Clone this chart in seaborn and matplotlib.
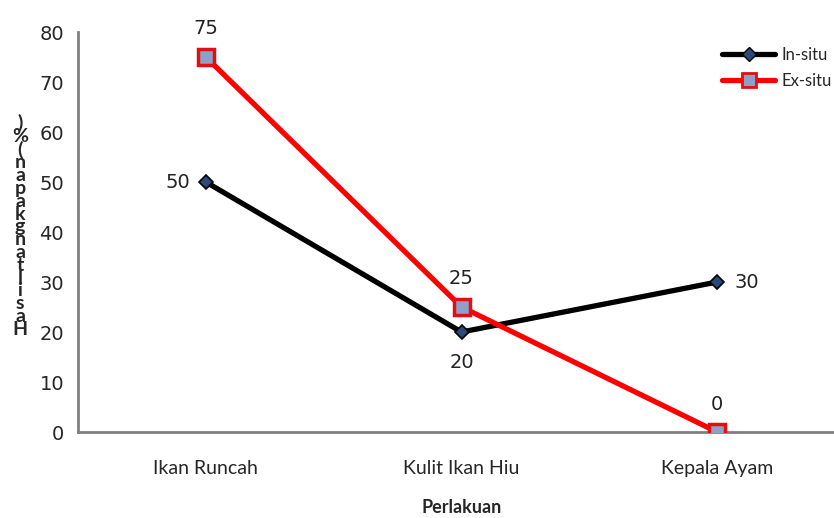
import pandas as pd
import seaborn as sns
import matplotlib.pyplot as plt
from matplotlib.lines import Line2D

# ===============================
# DATA
# ===============================
perlakuan = ["Ikan Runcah", "Kulit Ikan Hiu", "Kepala Ayam"]
in_situ = [50, 20, 30]
ex_situ = [75, 25, 0]
series_names = ["In-situ", "Ex-situ"]

df = pd.DataFrame({
    "pos": list(range(len(perlakuan))) * 2,
    "Perlakuan": perlakuan * 2,
    "nilai": in_situ + ex_situ,
    "seri": [series_names[0]] * 3 + [series_names[1]] * 3,
})

# ===============================
# PLOT
# ===============================
sns.set_style("white")
plt.rcParams["font.family"] = ["Lato", "DejaVu Sans"]

fig = plt.figure(figsize=(8.34, 5.18), dpi=100)
ax = fig.add_axes([78 / 834, 86 / 518, 767 / 834, 400 / 518])

palette = {"In-situ": "black", "Ex-situ": "#ff0000"}
sns.lineplot(data=df, x="pos", y="nilai", hue="seri", palette=palette,
             linewidth=3.8, legend=False, ax=ax)

# markers
sub = df[df["seri"] == "In-situ"]
ax.plot(sub["pos"], sub["nilai"], linestyle="none", marker="D", markersize=7,
        markerfacecolor="#2a4a7a", markeredgecolor="black", markeredgewidth=1.2, zorder=5)
sub = df[df["seri"] == "Ex-situ"]
ax.plot(sub["pos"], sub["nilai"], linestyle="none", marker="s", markersize=12,
        markerfacecolor="#8fa0c8", markeredgecolor="#e01010", markeredgewidth=2.5, zorder=5)

# data labels
offsets_in = [(-28, 0), (0, -30), (30, 0)]
offsets_ex = [(0, 28), (0, 28), (0, 28)]
for i, v in enumerate(in_situ):
    ax.annotate(str(v), (i, v), xytext=offsets_in[i], textcoords="offset pixels",
                ha="center", va="center", fontsize=14, color="#222222",
                family=["DejaVu Sans"])
for i, v in enumerate(ex_situ):
    ax.annotate(str(v), (i, v), xytext=offsets_ex[i], textcoords="offset pixels",
                ha="center", va="center", fontsize=14, color="#222222",
                family=["DejaVu Sans"])

# legend
handles = [
    Line2D([], [], color="black", linewidth=3.8, marker="D", markersize=7,
           markerfacecolor="#2a4a7a", markeredgecolor="black"),
    Line2D([], [], color="#ff0000", linewidth=3.8, marker="s", markersize=10,
           markerfacecolor="#8fa0c8", markeredgecolor="#e01010", markeredgewidth=2),
]
ax.legend(handles, series_names, loc="upper left", bbox_to_anchor=(0.82, 1.0),
          frameon=False, fontsize=12, handlelength=3.2, handletextpad=0.4,
          labelspacing=0.6)

# axes
ax.set_xlim(-0.5, 2.5)
ax.set_ylim(0, 80)
ax.set_xticks([-0.5, 0.5, 1.5, 2.5])
ax.set_xticklabels([])
ax.set_xticks(range(len(perlakuan)), minor=True)
ax.set_xticklabels(perlakuan, minor=True, fontsize=14)
ax.tick_params(axis="x", which="minor", length=0, pad=20)
ax.tick_params(axis="x", which="major", length=7, width=2, color="#808080", direction="out")
ax.set_yticks(range(0, 81, 10))
ax.set_yticklabels([str(t) for t in range(0, 81, 10)], family=["DejaVu Sans"])
ax.tick_params(axis="y", labelsize=14, length=7, width=2, color="#808080", direction="out", pad=3)
for s in ["top", "right"]:
    ax.spines[s].set_visible(False)
for s in ["left", "bottom"]:
    ax.spines[s].set_color("#808080")
    ax.spines[s].set_linewidth(2)
ax.set_xlabel("Perlakuan", fontsize=13, fontweight="bold", labelpad=16)
ax.set_ylabel("")

# garbled stacked y label as in the original
ylab = "\n".join(reversed("Hasil tangkapan (%)".replace(" ", "")))
fig.text(20 / 834, 1 - 226 / 518, ylab, ha="center", va="center",
         fontsize=14, fontweight="bold", linespacing=0.7)

fig.savefig("out.png", dpi=100)
